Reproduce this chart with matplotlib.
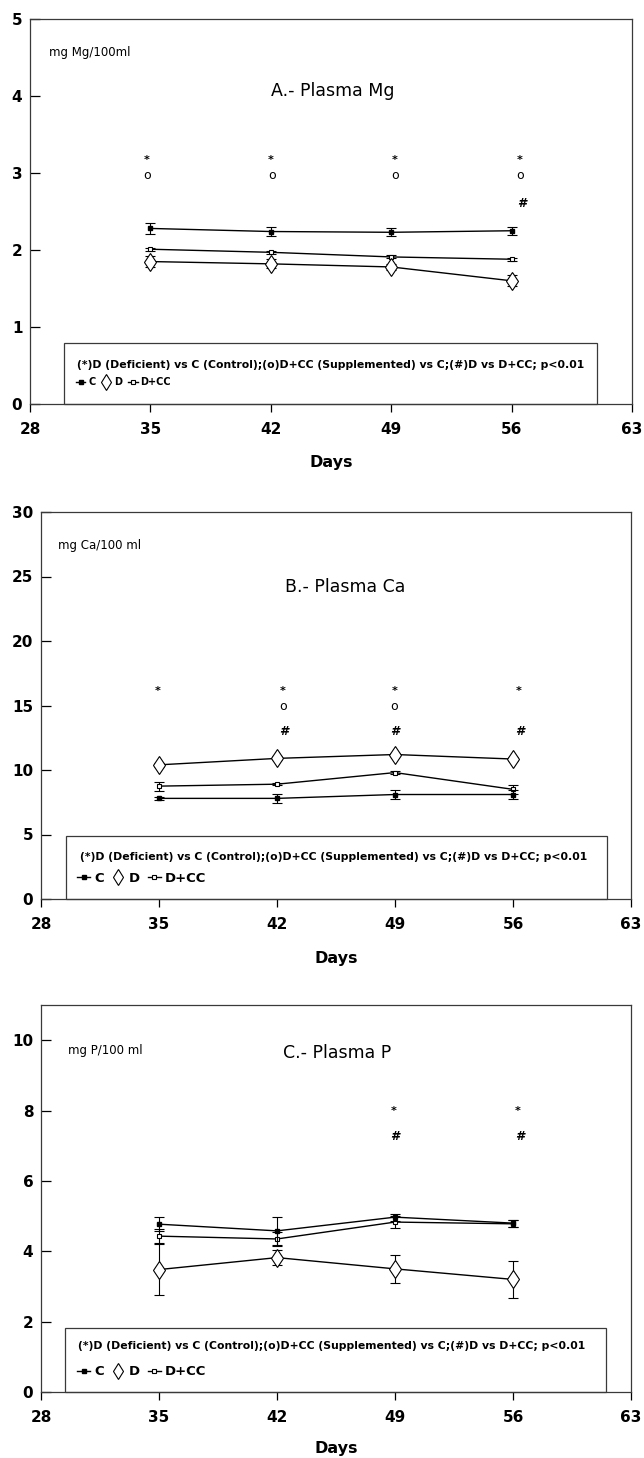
import matplotlib
matplotlib.use("Agg")
import matplotlib.pyplot as plt
from matplotlib.lines import Line2D
from matplotlib.patches import Rectangle

plt.rcParams['font.family'] = ['DejaVu Sans']

# ---------------- data ----------------
days = [35, 42, 49, 56]
xticks = [28, 35, 42, 49, 56, 63]

mg_C = [2.28, 2.24, 2.23, 2.25]
mg_C_err = [0.07, 0.06, 0.05, 0.05]
mg_D = [1.85, 1.82, 1.78, 1.60]
mg_D_err = [0.07, 0.06, 0.04, 0.07]
mg_DCC = [2.01, 1.97, 1.91, 1.88]
mg_DCC_err = [0.02, 0.02, 0.02, 0.02]

ca_C = [7.8, 7.8, 8.1, 8.1]
ca_C_err = [0.1, 0.35, 0.35, 0.35]
ca_D = [10.4, 10.9, 11.2, 10.85]
ca_D_err = [0.15, 0.15, 0.15, 0.15]
ca_DCC = [8.75, 8.9, 9.8, 8.5]
ca_DCC_err = [0.35, 0.1, 0.1, 0.35]

p_C = [4.77, 4.58, 4.97, 4.8]
p_C_err = [0.2, 0.4, 0.1, 0.1]
p_D = [3.48, 3.82, 3.5, 3.2]
p_D_err = [0.72, 0.22, 0.4, 0.53]
p_DCC = [4.43, 4.35, 4.83, 4.78]
p_DCC_err = [0.2, 0.2, 0.17, 0.1]

# significance symbols (day position, level)
mg_star_x = [34.8, 42.0, 49.2, 56.45]
mg_star_y = 3.17
mg_circ_x = [34.8, 42.05, 49.2, 56.5]
mg_circ_y = 2.97
mg_hash_x = [56.6]
mg_hash_y = 2.6

ca_star_x = [34.9, 42.35, 48.95, 56.35]
ca_star_y = 16.1
ca_circ_x = [42.35, 48.95]
ca_circ_y = 14.9
ca_hash_x = [42.4, 49.0, 56.4]
ca_hash_y = 13.0

p_star_x = [48.9, 56.3]
p_star_y = 8.0
p_circ_x = []
p_circ_y = 0
p_hash_x = [49.0, 56.4]
p_hash_y = 7.25

sig_text = "(*)D (Deficient) vs C (Control);(o)D+CC (Supplemented) vs C;(#)D vs D+CC; p<0.01"
series_labels = ["C", "D", "D+CC"]

W, H = 644, 1458
fig = plt.figure(figsize=(W / 100, H / 100), dpi=100)


def px_axes(left, top, right, bottom):
    return fig.add_axes([left / W, (H - bottom) / H, (right - left) / W, (bottom - top) / H])


def panel(ax, ylim, yticks, C, Ce, D, De, DCC, DCCe, unit_text, unit_pos, title, title_pos,
          star_x, star_y, circ_x, circ_y, hash_x, hash_y, box, line1_y, line2_y, leg_fs, days_y):
    ax.set_xlim(28, 63)
    ax.set_ylim(*ylim)
    ax.set_xticks(xticks)
    ax.set_yticks(yticks)
    for s in ax.spines.values():
        s.set_color('#3a3a3a')
        s.set_linewidth(0.9)
    ax.tick_params(axis='x', direction='out', length=6, width=0.9, pad=7, labelsize=11)
    ax.tick_params(axis='y', direction='in', length=7, width=0.9, pad=5.5, labelsize=11)
    for lab in ax.get_xticklabels() + ax.get_yticklabels():
        lab.set_fontweight('bold')

    kw = dict(color='black', lw=1.0, capsize=3.3, elinewidth=0.8, capthick=0.8)
    ax.errorbar(days, DCC, yerr=DCCe, marker='s', ms=3.3, mfc='white', mec='black', mew=0.8, zorder=3, **kw)
    ax.errorbar(days, C, yerr=Ce, marker='s', ms=3.3, mfc='black', mec='black', zorder=4, **kw)
    ax.errorbar(days, D, yerr=De, marker='d', ms=9.5, mfc='white', mec='black', mew=0.8, zorder=5, **kw)

    ax.text(unit_pos[0], unit_pos[1], unit_text, transform=ax.transAxes, fontsize=8.5,
            ha='left', va='center')
    ax.text(title_pos[0], title_pos[1], title, transform=ax.transAxes, fontsize=12.5,
            ha='center', va='center')

    for x in star_x:
        ax.text(x, star_y, '*', fontsize=8, ha='center', va='center', fontweight='bold')
    for x in circ_x:
        ax.text(x, circ_y, 'o', fontsize=9, ha='center', va='center')
    for x in hash_x:
        ax.text(x, hash_y, '#', fontsize=9, ha='center', va='center', fontweight='bold', style='italic')

    bx0, bx1, btop = box
    ax.add_patch(Rectangle((bx0, 0), bx1 - bx0, btop, transform=ax.transAxes, fill=False,
                           edgecolor='#3a3a3a', lw=0.9, zorder=6, clip_on=False))
    t = ax.text(line1_y[0], line1_y[1], sig_text, transform=ax.transAxes, fontsize=7,
                fontweight='bold', ha='left', va='center')
    # fit width of first legend line
    fig.canvas.draw()
    wpx = t.get_window_extent().width
    t.set_fontsize(7 * 510.0 / wpx)

    handles = [
        Line2D([], [], color='black', lw=1.0, marker='s', ms=3, mfc='black'),
        Line2D([], [], color='black', lw=0, marker='d', ms=8, mfc='white', mew=0.8),
        Line2D([], [], color='black', lw=1.0, marker='s', ms=3, mfc='white', mew=0.8),
    ]
    ax.legend(handles, series_labels, loc='center left', bbox_to_anchor=line2_y, ncol=3,
              frameon=False, borderpad=0, borderaxespad=0, handlelength=1.0, handletextpad=0.3,
              columnspacing=0.6, prop={'weight': 'bold', 'size': leg_fs})

    bb = ax.get_position()
    fig.text(bb.x0 + bb.width / 2, (H - days_y) / H, 'Days', ha='center', va='center',
             fontsize=11.5, fontweight='bold')


axA = px_axes(30, 19, 632, 404)
panel(axA, (0, 5), [0, 1, 2, 3, 4, 5], mg_C, mg_C_err, mg_D, mg_D_err, mg_DCC, mg_DCC_err,
      "mg Mg/100ml", (0.032, 0.914), "A.- Plasma Mg", (0.503, 0.814),
      mg_star_x, mg_star_y, mg_circ_x, mg_circ_y, mg_hash_x, mg_hash_y,
      (0.056, 0.942, 0.158), (0.078, 0.101), (0.076, 0.057), 7, 463)

axB = px_axes(41, 512, 631, 899)
panel(axB, (0, 30), [0, 5, 10, 15, 20, 25, 30], ca_C, ca_C_err, ca_D, ca_D_err, ca_DCC, ca_DCC_err,
      "mg Ca/100 ml", (0.028, 0.913), "B.- Plasma Ca", (0.515, 0.807),
      ca_star_x, ca_star_y, ca_circ_x, ca_circ_y, ca_hash_x, ca_hash_y,
      (0.042, 0.959, 0.163), (0.066, 0.109), (0.061, 0.054), 9.5, 958)

axC = px_axes(41, 1005, 631, 1392)
panel(axC, (0, 11), [0, 2, 4, 6, 8, 10], p_C, p_C_err, p_D, p_D_err, p_DCC, p_DCC_err,
      "mg P/100 ml", (0.046, 0.882), "C.- Plasma P", (0.502, 0.875),
      p_star_x, p_star_y, p_circ_x, p_circ_y, p_hash_x, p_hash_y,
      (0.041, 0.958, 0.165), (0.063, 0.119), (0.061, 0.052), 9.5, 1449)

fig.savefig('out.png', dpi=100)
